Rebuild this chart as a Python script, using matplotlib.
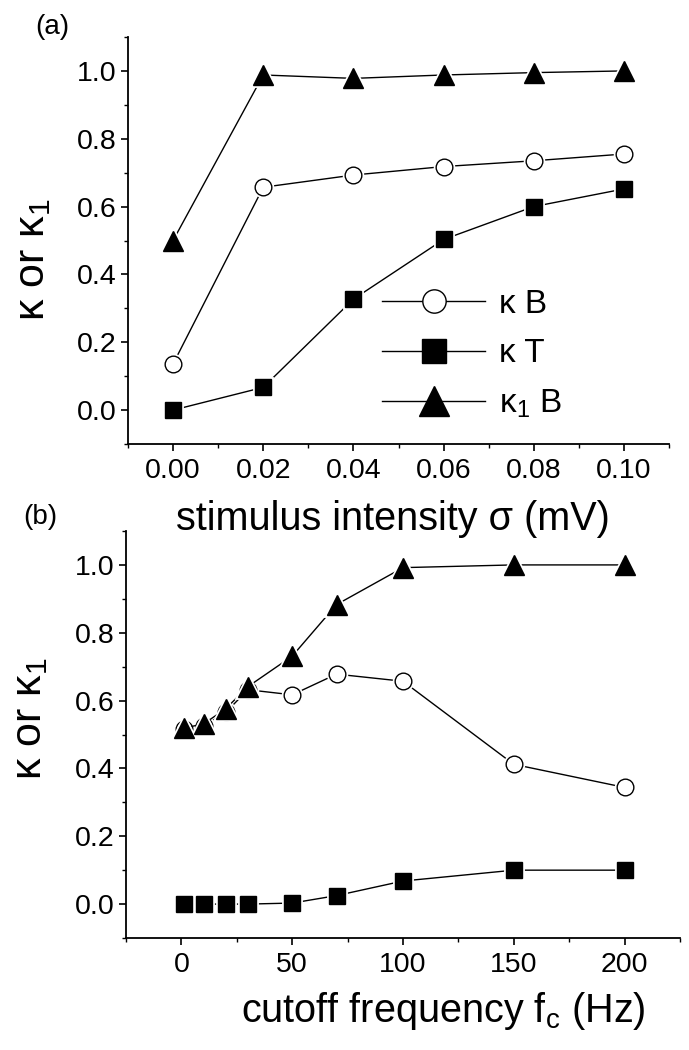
import matplotlib
matplotlib.use("Agg")
import matplotlib.pyplot as plt
from matplotlib.ticker import MultipleLocator, FormatStrFormatter
from matplotlib.lines import Line2D

plt.rcParams['font.family'] = ['Liberation Sans', 'DejaVu Sans']
plt.rcParams['mathtext.fontset'] = 'custom'
plt.rcParams['mathtext.rm'] = 'Liberation Sans'
plt.rcParams['mathtext.it'] = 'Liberation Sans'

# Panel (a): stimulus intensity
sigma = [0.00, 0.02, 0.04, 0.06, 0.08, 0.10]
a_kappaB = [0.136, 0.657, 0.693, 0.718, 0.735, 0.755]
a_kappaT = [0.0, 0.067, 0.327, 0.503, 0.600, 0.652]
a_kappa1B = [0.50, 0.988, 0.978, 0.988, 0.995, 1.0]

# Panel (b): cutoff frequency
fc = [1, 10, 20, 30, 50, 70, 100, 150, 200]
b_kappaB = [0.515, 0.525, 0.565, 0.632, 0.617, 0.678, 0.657, 0.412, 0.344]
b_kappaT = [0.0, 0.0, 0.0, 0.0, 0.003, 0.025, 0.068, 0.100, 0.100]
b_kappa1B = [0.519, 0.531, 0.576, 0.641, 0.731, 0.883, 0.992, 1.0, 1.0]

labels = ['κ B', 'κ T', 'κ$_1$ B']
ylabel = 'κ or κ$_1$'

W, H = 689, 1050
fig = plt.figure(figsize=(W / 100, H / 100), dpi=100)

def px_axes(l, t, r, b):
    ax = fig.add_axes([l / W, 1 - b / H, (r - l) / W, (b - t) / H])
    ax.set_facecolor('none')
    return ax

ax1 = px_axes(128, 37, 669, 444)
ax2 = px_axes(126, 531, 680, 938)

tick_fs = 20.5
xlab_fs = 28.5
ylab_fs = 31

def style(ax, ylab_x, ylab_y):
    for s in ['top', 'right']:
        ax.spines[s].set_visible(False)
    for s in ['left', 'bottom']:
        ax.spines[s].set_linewidth(1.3)
    ax.tick_params(which='major', direction='out', length=5, width=1.2, labelsize=tick_fs, pad=3.5)
    ax.tick_params(which='minor', direction='out', length=3, width=1.0)
    ax.tick_params(axis='x', which='major', pad=5)
    ax.set_ylim(-0.1, 1.1)
    ax.yaxis.set_major_locator(MultipleLocator(0.2))
    ax.yaxis.set_minor_locator(MultipleLocator(0.1))
    ax.yaxis.set_major_formatter(FormatStrFormatter('%.1f'))
    ax.set_ylabel(ylabel, fontsize=ylab_fs, va='center', ha='center')
    ax.yaxis.set_label_coords(ylab_x, ylab_y)

styles = [
    dict(marker='o', ms=12, mfc='white'),
    dict(marker='s', ms=12, mfc='black'),
    dict(marker='^', ms=15, mfc='black'),
]

def draw(ax, x, series):
    z = 2
    for ys, st in zip(series, styles):
        ax.plot(x, ys, color='black', linewidth=1.0, zorder=z)
        # white halo to leave a small gap between line and marker
        ax.plot(x, ys, linestyle='none', marker=st['marker'], ms=st['ms'],
                mfc='white', mec='white', mew=3.5, zorder=z + 0.1)
        ax.plot(x, ys, linestyle='none', marker=st['marker'], ms=st['ms'],
                mfc=st['mfc'], mec='black', mew=1.0, zorder=z + 0.2)
        z += 1

style(ax1, -0.176, 0.452)
draw(ax1, sigma, [a_kappaB, a_kappaT, a_kappa1B])
ax1.set_xlim(-0.01, 0.11)
ax1.xaxis.set_major_locator(MultipleLocator(0.02))
ax1.xaxis.set_minor_locator(MultipleLocator(0.01))
ax1.xaxis.set_major_formatter(FormatStrFormatter('%.2f'))
ax1.set_xlabel('stimulus intensity σ (mV)', fontsize=xlab_fs, va='baseline')
ax1.xaxis.set_label_coords(0.49, -0.211)

handles = [Line2D([], [], color='black', linewidth=1.0, marker=st['marker'],
                  ms=st['ms'] * 1.4, mfc=st['mfc'], mec='black', mew=1.0)
           for st in styles]
fig.legend(handles=handles, labels=labels, loc='upper left',
           bbox_to_anchor=(382 / W, 1 - 289 / H), bbox_transform=fig.transFigure,
           frameon=False, fontsize=24, handlelength=3.1, handletextpad=0.4,
           labelspacing=0.55, borderaxespad=0, borderpad=0)

style(ax2, -0.173, 0.538)
draw(ax2, fc, [b_kappaB, b_kappaT, b_kappa1B])
ax2.set_xlim(-25, 225)
ax2.xaxis.set_major_locator(MultipleLocator(50))
ax2.xaxis.set_minor_locator(MultipleLocator(25))
ax2.set_xlabel('cutoff frequency f$_c$ (Hz)', fontsize=xlab_fs, va='baseline')
ax2.xaxis.set_label_coords(0.572, -0.206)

fig.text(35 / W, 1 - 27 / H, '(a)', fontsize=20, va='center', ha='left')
fig.text(23 / W, 1 - 517 / H, '(b)', fontsize=20, va='center', ha='left')

fig.savefig('out.png', dpi=100)
